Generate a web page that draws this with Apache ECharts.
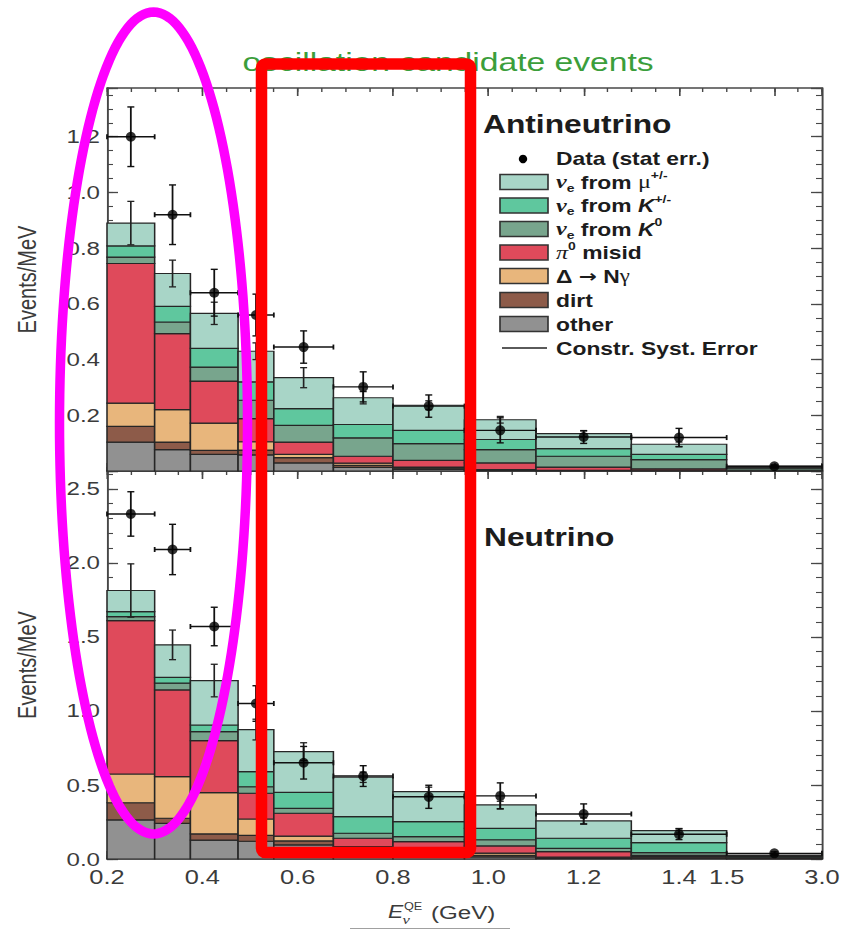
<!DOCTYPE html>
<html lang="en">
<head>
<meta charset="utf-8">
<title>Oscillation candidate events</title>
<script src="https://cdn.jsdelivr.net/npm/echarts@6/dist/echarts.min.js"></script>
<style>
  html, body { margin: 0; padding: 0; background: #ffffff; overflow: hidden; }
  #plot { position: absolute; left: 0; top: 0; width: 668px; height: 932px; transform-origin: 0 0; }
  #marks { position: absolute; left: 0; top: 0; width: 848px; height: 932px; pointer-events: none; }
</style>
</head>
<body>
<div id="plot"></div>
<div id="marks"></div>
<script>
// ---- Binning (reconstructed energy, GeV) and tick labels ----
const binEdges = [0.2, 0.3, 0.375, 0.475, 0.55, 0.675, 0.8, 0.95, 1.1, 1.3, 1.5, 3.0];
const xTickValues = [0.2, 0.4, 0.6, 0.8, 1.0, 1.2, 1.4, 1.5, 3.0];
const antiYTicks = [0.2, 0.4, 0.6, 0.8, 1.0, 1.2];
const nuYTicks = [0.0, 0.5, 1.0, 1.5, 2.0, 2.5];

// ---- Antineutrino mode: predicted backgrounds (Events/MeV) ----
const antiOther = [0.104, 0.077, 0.060, 0.058, 0.029, 0.013, 0.006, 0.002, 0.001, 0.001, 0.001];
const antiDirt  = [0.056, 0.027, 0.014, 0.017, 0.019, 0.007, 0.004, 0.002, 0.001, 0.001, 0.000];
const antiDelta = [0.084, 0.116, 0.098, 0.030, 0.012, 0.008, 0.004, 0.001, 0.000, 0.001, 0.001];
const antiPi0   = [0.501, 0.273, 0.151, 0.083, 0.044, 0.025, 0.024, 0.024, 0.012, 0.005, 0.001];
const antiK0    = [0.023, 0.042, 0.050, 0.066, 0.060, 0.066, 0.060, 0.048, 0.039, 0.033, 0.007];
const antiKpm   = [0.040, 0.056, 0.067, 0.066, 0.060, 0.048, 0.048, 0.036, 0.027, 0.019, 0.003];
const antiMu    = [0.082, 0.118, 0.126, 0.110, 0.111, 0.096, 0.090, 0.071, 0.054, 0.036, 0.004];
const antiSystErr = [0.078, 0.048, 0.040, 0.030, 0.036, 0.022, 0.016, 0.012, 0.010, 0.008, 0.003];
// Antineutrino mode: observed events with statistical errors
const antiData    = [1.20, 0.92, 0.64, 0.56, 0.445, 0.302, 0.233, 0.146, 0.122, 0.120, 0.017];
const antiStatErr = [0.107, 0.107, 0.084, 0.075, 0.058, 0.054, 0.040, 0.045, 0.023, 0.033, 0.005];

// ---- Neutrino mode: predicted backgrounds (Events/MeV) ----
const nuOther = [0.264, 0.240, 0.128, 0.120, 0.095, 0.045, 0.030, 0.015, 0.006, 0.005, 0.002];
const nuDirt  = [0.116, 0.035, 0.041, 0.040, 0.027, 0.015, 0.015, 0.010, 0.004, 0.010, 0.002];
const nuDelta = [0.194, 0.281, 0.279, 0.110, 0.033, 0.023, 0.015, 0.015, 0.002, 0.005, 0.001];
const nuPi0   = [1.036, 0.586, 0.352, 0.174, 0.154, 0.057, 0.057, 0.048, 0.038, 0.005, 0.002];
const nuK0    = [0.027, 0.045, 0.060, 0.044, 0.033, 0.034, 0.034, 0.042, 0.022, 0.018, 0.005];
const nuKpm   = [0.034, 0.040, 0.045, 0.102, 0.108, 0.112, 0.101, 0.077, 0.068, 0.067, 0.008];
const nuMu    = [0.142, 0.219, 0.300, 0.284, 0.275, 0.266, 0.203, 0.158, 0.117, 0.081, 0.007];
const nuSystErr = [0.180, 0.100, 0.110, 0.070, 0.060, 0.035, 0.030, 0.025, 0.020, 0.015, 0.004];
// Neutrino mode: observed events with statistical errors
const nuData    = [2.33, 2.09, 1.57, 1.05, 0.65, 0.56, 0.42, 0.426, 0.304, 0.167, 0.038];
const nuStatErr = [0.150, 0.170, 0.130, 0.120, 0.110, 0.070, 0.078, 0.088, 0.068, 0.036, 0.010];

// ---- Styling ----
const colOther = '#919191', colDirt = '#8d5b49', colDelta = '#e8b67c', colPi0 = '#df4a5b';
const colK0 = '#78a58d', colKpm = '#5fc79e', colMu = '#a8d5c7';
const layerColors = [colOther, colDirt, colDelta, colPi0, colK0, colKpm, colMu];
const layerNames = ['other', 'dirt', 'Δ → Nγ', 'π0 misid', 'νe from K0', 'νe from K+/-', 'νe from μ+/-'];
const SANS = '"Liberation Sans", Arial, Helvetica, sans-serif';
const SERIF = '"Liberation Serif", "Times New Roman", serif';
const AX = '#474747', LABEL = '#3b3b3b', INK = '#1c1c1c', EDGE = '#262626';

// The plot layer is laid out narrow and widened horizontally.
const W_IN = 668, S = 848 / W_IN;
const ix = px => px / S;
document.getElementById('plot').style.transform = 'scaleX(' + S + ')';

// The 1.5-3.0 GeV bin is drawn with the width of 0.2 GeV.
const BREAK = 1.5, TAIL = 0.2 / 1.5;
const toAxis = e => (e <= BREAK ? e : BREAK + (e - BREAK) * TAIL);
const fromAxis = v => (v <= BREAK + 1e-9 ? v : BREAK + (v - BREAK) / TAIL);
const nBins = binEdges.length - 1;
const binLo = binEdges.slice(0, nBins).map(toAxis);
const binHi = binEdges.slice(1).map(toAxis);
const binMid = binEdges.slice(0, nBins).map((e, i) => toAxis((e + binEdges[i + 1]) / 2));

// ---- Axes ----
function axisPair(gridIndex, position, min, max, major, minor, majLen, minLen, extra) {
  const base = { type: 'value', gridIndex, position, min, max, splitLine: { show: false },
                 axisLabel: { show: false }, minorTick: { show: false } };
  const a = Object.assign({}, base, {
    interval: major,
    axisLine: { show: true, onZero: false, lineStyle: { color: AX, width: 1.5 } },
    axisTick: { show: true, inside: true, length: majLen, lineStyle: { color: AX, width: 1.3 } }
  }, extra || {});
  const b = Object.assign({}, base, {
    interval: minor,
    axisLine: { show: false, onZero: false },
    axisTick: { show: true, inside: true, length: minLen, lineStyle: { color: AX, width: 1.1 } }
  });
  return [a, b];
}
const xMin = toAxis(binEdges[0]), xMax = toAxis(binEdges[nBins]);
const xLabelCfg = { axisLabel: { show: true, customValues: xTickValues.map(toAxis),
  formatter: v => fromAxis(v).toFixed(1), margin: 8, fontSize: 20, color: LABEL, fontFamily: SANS } };
const yLabelCfg = (ticks) => ({
  axisLabel: { show: true, customValues: ticks, formatter: v => v.toFixed(1), margin: ix(7),
               fontSize: 19, color: LABEL, fontFamily: SANS },
  name: 'Events/MeV', nameLocation: 'middle', nameRotate: 90, nameGap: 53,
  nameTextStyle: { fontSize: 20, color: LABEL, fontFamily: SANS }
});
const ANTI_MAX = 1.375, NU_MAX = 2.62;
const xAxes = [].concat(
  axisPair(0, 'bottom', xMin, xMax, 0.2, 0.05, 8, 4),
  axisPair(0, 'top', xMin, xMax, 0.2, 0.05, 8, 4),
  axisPair(1, 'bottom', xMin, xMax, 0.2, 0.05, 8, 4, xLabelCfg),
  axisPair(1, 'top', xMin, xMax, 0.2, 0.05, 8, 4)
);
const yAxes = [].concat(
  axisPair(0, 'left', 0, ANTI_MAX, 0.2, 0.05, ix(11), ix(6), yLabelCfg(antiYTicks)),
  axisPair(0, 'right', 0, ANTI_MAX, 0.2, 0.05, ix(11), ix(6)),
  axisPair(1, 'left', 0, NU_MAX, 0.5, 0.1, ix(11), ix(6), yLabelCfg(nuYTicks)),
  axisPair(1, 'right', 0, NU_MAX, 0.5, 0.1, ix(11), ix(6))
);

// ---- Series builders ----
function bandSeries(layers, xi, yi) {
  const acc = new Array(nBins).fill(0);
  return layers.map((vals, k) => ({
    type: 'custom', name: layerNames[k], xAxisIndex: xi, yAxisIndex: yi, z: 2, silent: true,
    encode: { x: [0, 1], y: [2, 3] },
    data: vals.map((v, i) => { const lo = acc[i]; acc[i] = lo + v; return [binLo[i], binHi[i], lo, acc[i]]; }),
    renderItem: (params, api) => {
      const a = api.coord([api.value(0), api.value(3)]);
      const b = api.coord([api.value(1), api.value(2)]);
      return { type: 'rect', shape: { x: a[0], y: a[1], width: b[0] - a[0], height: b[1] - a[1] },
               style: { fill: layerColors[k], stroke: EDGE, lineWidth: 1.2 } };
    }
  }));
}
function systSeries(layers, errs, xi, yi) {
  const totals = binMid.map((_, i) => layers.reduce((s, arr) => s + arr[i], 0));
  return {
    type: 'custom', name: 'Constr. Syst. Error', xAxisIndex: xi, yAxisIndex: yi, z: 3, silent: true,
    encode: { x: 0, y: 1 },
    data: totals.map((t, i) => [binMid[i], t, errs[i]]),
    renderItem: (params, api) => {
      const x = api.value(0), t = api.value(1), e = api.value(2);
      const p1 = api.coord([x, t + e]), p2 = api.coord([x, t - e]);
      const cw = ix(3.5), ls = { stroke: '#222', lineWidth: 1.3 };
      return { type: 'group', children: [
        { type: 'line', shape: { x1: p1[0], y1: p1[1], x2: p2[0], y2: p2[1] }, style: ls },
        { type: 'line', shape: { x1: p1[0] - cw, y1: p1[1], x2: p1[0] + cw, y2: p1[1] }, style: ls },
        { type: 'line', shape: { x1: p2[0] - cw, y1: p2[1], x2: p2[0] + cw, y2: p2[1] }, style: ls }
      ] };
    }
  };
}
function dataErrSeries(vals, errs, xi, yi) {
  return {
    type: 'custom', name: 'Data (stat err.)', xAxisIndex: xi, yAxisIndex: yi, z: 4, silent: true,
    encode: { x: [0, 1], y: 3 },
    data: vals.map((v, i) => [binLo[i], binHi[i], binMid[i], v, errs[i]]),
    renderItem: (params, api) => {
      const lo = api.value(0), hi = api.value(1), xc = api.value(2), y = api.value(3), e = api.value(4);
      const pL = api.coord([lo, y]), pR = api.coord([hi, y]);
      const pT = api.coord([xc, y + e]), pB = api.coord([xc, y - e]);
      const cw = ix(3.5), ch = 2.5, ls = { stroke: '#111', lineWidth: 1.4 };
      return { type: 'group', children: [
        { type: 'line', shape: { x1: pL[0], y1: pL[1], x2: pR[0], y2: pR[1] }, style: ls },
        { type: 'line', shape: { x1: pL[0], y1: pL[1] - ch, x2: pL[0], y2: pL[1] + ch }, style: ls },
        { type: 'line', shape: { x1: pR[0], y1: pR[1] - ch, x2: pR[0], y2: pR[1] + ch }, style: ls },
        { type: 'line', shape: { x1: pT[0], y1: pT[1], x2: pB[0], y2: pB[1] }, style: ls },
        { type: 'line', shape: { x1: pT[0] - cw, y1: pT[1], x2: pT[0] + cw, y2: pT[1] }, style: ls },
        { type: 'line', shape: { x1: pB[0] - cw, y1: pB[1], x2: pB[0] + cw, y2: pB[1] }, style: ls }
      ] };
    }
  };
}
function dotSeries(vals, xi, yi) {
  return { type: 'scatter', name: 'Data (stat err.)', xAxisIndex: xi, yAxisIndex: yi, z: 5, silent: true,
           symbol: 'circle', symbolSize: [ix(10), 10], itemStyle: { color: '#000' },
           data: vals.map((v, i) => [binMid[i], v]) };
}

const antiLayers = [antiOther, antiDirt, antiDelta, antiPi0, antiK0, antiKpm, antiMu];
const nuLayers = [nuOther, nuDirt, nuDelta, nuPi0, nuK0, nuKpm, nuMu];
const series = [].concat(
  bandSeries(antiLayers, 0, 0),
  [systSeries(antiLayers, antiSystErr, 0, 0), dataErrSeries(antiData, antiStatErr, 0, 0), dotSeries(antiData, 0, 0)],
  bandSeries(nuLayers, 4, 4),
  [systSeries(nuLayers, nuSystErr, 4, 4), dataErrSeries(nuData, nuStatErr, 4, 4), dotSeries(nuData, 4, 4)]
);

// ---- Legend and captions ----
const richBase = { fontFamily: SANS, fontWeight: 'bold', fontSize: 18, lineHeight: 24, verticalAlign: 'middle', fill: INK };
const legendRich = {
  b: richBase,
  nu: { fontFamily: SERIF, fontStyle: 'italic', fontWeight: 'bold', fontSize: 19, lineHeight: 24, verticalAlign: 'middle', fill: INK },
  k: { fontFamily: SANS, fontStyle: 'italic', fontWeight: 'bold', fontSize: 18, lineHeight: 24, verticalAlign: 'middle', fill: INK },
  mu: { fontFamily: SERIF, fontSize: 19, lineHeight: 24, verticalAlign: 'middle', fill: INK },
  pi: { fontFamily: SERIF, fontStyle: 'italic', fontSize: 19, lineHeight: 24, verticalAlign: 'middle', fill: INK },
  g: { fontFamily: SERIF, fontSize: 18, lineHeight: 24, verticalAlign: 'middle', fill: INK },
  arr: { fontFamily: '"DejaVu Sans", sans-serif', fontWeight: 'bold', fontSize: 17, lineHeight: 24, verticalAlign: 'middle', fill: INK },
  sub: { fontFamily: SANS, fontWeight: 'bold', fontSize: 11, lineHeight: 11, verticalAlign: 'bottom', fill: INK },
  sup: { fontFamily: SANS, fontWeight: 'bold', fontSize: 11, lineHeight: 11, verticalAlign: 'top', fill: INK }
};
const legendRows = [
  { kind: 'dot', text: '{b|Data (stat err.)}' },
  { kind: 'box', color: colMu, text: '{nu|ν}{sub|e}{b| from }{mu|μ}{sup|+/-}' },
  { kind: 'box', color: colKpm, text: '{nu|ν}{sub|e}{b| from }{k|K}{sup|+/-}' },
  { kind: 'box', color: colK0, text: '{nu|ν}{sub|e}{b| from }{k|K}{sup|0}' },
  { kind: 'box', color: colPi0, text: '{pi|π}{sup|0}{b| misid}' },
  { kind: 'box', color: colDelta, text: '{b|Δ }{arr|→}{b| N}{g|γ}' },
  { kind: 'box', color: colDirt, text: '{b|dirt}' },
  { kind: 'box', color: colOther, text: '{b|other}' },
  { kind: 'line', text: '{b|Constr. Syst. Error}' }
];
const legendY = [158, 182, 205.5, 229, 252.5, 276, 300, 324, 348];
const graphics = [];
legendRows.forEach((row, i) => {
  const y = legendY[i];
  if (row.kind === 'box') {
    graphics.push({ type: 'rect', shape: { x: ix(500), y: y - 7.5, width: ix(48), height: 15 },
                    style: { fill: row.color, stroke: '#333', lineWidth: 1.3 }, z: 10 });
  } else if (row.kind === 'dot') {
    graphics.push({ type: 'circle', x: ix(523), y: y + 1, scaleX: 1 / S, shape: { cx: 0, cy: 0, r: 4.2 },
                    style: { fill: '#000' }, z: 10 });
  } else {
    graphics.push({ type: 'line', shape: { x1: ix(502), y1: y, x2: ix(547), y2: y },
                    style: { stroke: '#5a5a5a', lineWidth: 2 }, z: 10 });
  }
  graphics.push({ type: 'text', x: ix(556), y: y, z: 10,
                  style: { text: row.text, rich: legendRich, align: 'left', verticalAlign: 'middle' } });
});
graphics.push(
  { type: 'text', x: ix(448), y: 62, z: 10,
    style: { text: 'oscillation candidate events', fill: '#3b9e3b', fontFamily: SANS, fontSize: 26.5,
             align: 'center', verticalAlign: 'middle' } },
  { type: 'text', x: ix(483), y: 124, z: 10,
    style: { text: 'Antineutrino', fill: INK, fontFamily: SANS, fontWeight: 'bold', fontSize: 25,
             align: 'left', verticalAlign: 'middle' } },
  { type: 'text', x: ix(484), y: 537, z: 10,
    style: { text: 'Neutrino', fill: INK, fontFamily: SANS, fontWeight: 'bold', fontSize: 25,
             align: 'left', verticalAlign: 'middle' } },
  // energy axis title: E with stacked ν / QE indices
  { type: 'text', x: ix(388), y: 911, z: 10,
    style: { text: 'E', fill: LABEL, fontFamily: SANS, fontStyle: 'italic', fontSize: 18, align: 'left', verticalAlign: 'middle' } },
  { type: 'text', x: ix(404), y: 906, z: 10,
    style: { text: 'QE', fill: LABEL, fontFamily: SANS, fontSize: 10, align: 'left', verticalAlign: 'middle' } },
  { type: 'text', x: ix(402.5), y: 920, z: 10,
    style: { text: 'ν', fill: LABEL, fontFamily: SERIF, fontStyle: 'italic', fontSize: 13, align: 'left', verticalAlign: 'middle' } },
  { type: 'text', x: ix(431), y: 912, z: 10,
    style: { text: '(GeV)', fill: LABEL, fontFamily: SANS, fontSize: 19, align: 'left', verticalAlign: 'middle' } },
  { type: 'line', shape: { x1: ix(350), y1: 928.5, x2: ix(510), y2: 928.5 },
    style: { stroke: '#a0a0a0', lineWidth: 1.2 }, z: 10 }
);

const plot = echarts.init(document.getElementById('plot'), null, { renderer: 'svg', width: W_IN, height: 932 });
plot.setOption({
  animation: false,
  backgroundColor: '#ffffff',
  textStyle: { fontFamily: SANS },
  grid: [
    { left: ix(107), right: ix(26), top: 88, height: 383, outerBoundsMode: 'none' },
    { left: ix(107), right: ix(26), top: 471, height: 388, outerBoundsMode: 'none' }
  ],
  xAxis: xAxes,
  yAxis: yAxes,
  series: series,
  graphic: graphics
});

// ---- Highlight marks drawn over the figure ----
const ellipsePts = [];
for (let k = 0; k < 180; k++) {
  const t = (k / 180) * Math.PI * 2;
  ellipsePts.push([153.5 + 94 * Math.cos(t), 423 + 411 * Math.sin(t)]);
}
const marks = echarts.init(document.getElementById('marks'), null, { renderer: 'svg', width: 848, height: 932 });
marks.setOption({
  animation: false,
  graphic: [
    { type: 'polygon', shape: { points: ellipsePts }, z: 20,
      style: { fill: 'none', stroke: '#ff00ff', lineWidth: 9.5 } },
    { type: 'rect', shape: { x: 261.5, y: 64, width: 209, height: 788.5, r: 4 }, z: 20,
      style: { fill: 'none', stroke: '#ff0000', lineWidth: 11.5, lineJoin: 'round' } }
  ]
});
</script>
</body>
</html>
